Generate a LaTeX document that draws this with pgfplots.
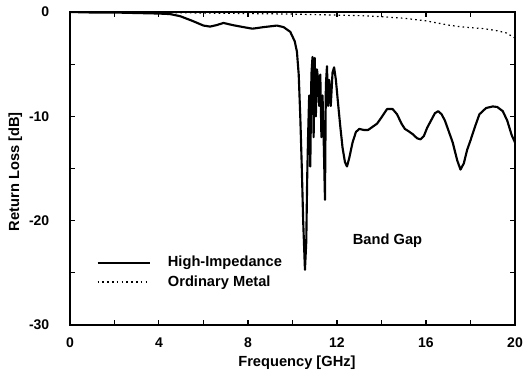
\documentclass[border=0pt]{standalone}
\usepackage{fontspec}
\setmainfont{Liberation Sans}
\usepackage{pgfplots}
\pgfplotsset{compat=1.18}
\begin{document}
\begin{tikzpicture}
\begin{axis}[
  scale only axis, width=334pt, height=235pt,
  xmin=0, xmax=20, ymin=-30, ymax=0,
  xtick={0,4,8,12,16,20}, ytick={-30,-20,-10,0},
  minor xtick={2,6,10,14,18}, minor ytick={-25,-15,-5},
  tick align=inside, major tick length=3.5pt, minor tick length=3.5pt,
  axis line style={line width=1pt},
  every tick/.style={line width=0.8pt, black},
  /pgf/number format/assume math mode=true,
  ticklabel style={font=\bfseries\fontsize{10.5}{12}\selectfont},
  yticklabel style={xshift=-12pt},
  xticklabel style={yshift=-6pt},
  xlabel={Frequency [GHz]}, ylabel={Return Loss [dB]},
  label style={font=\bfseries\fontsize{11}{13}\selectfont},
  xlabel style={at={(axis description cs:0.51,0)}, anchor=base, yshift=-31pt},
  ylabel style={at={(axis description cs:-0.123,0.49)}, anchor=center},
  legend style={at={(axis description cs:0.05,0.1)}, anchor=south west, draw=none, fill=none,
    font=\bfseries\fontsize{11}{13}\selectfont, row sep=1pt},
  legend cell align=left,
  legend image code/.code={\draw[#1] (0pt,0pt) -- (39pt,0pt); \path (50pt,0pt);},
]
\addplot[black, line width=1.6pt, line join=round] coordinates {
(0,0) (1,-0.05) (2,-0.05) (3,-0.1) (4,-0.15) (4.5,-0.2) (4.95,-0.4) (5.5,-0.85)
(6.0,-1.3) (6.3,-1.4) (6.6,-1.25) (6.9,-1.05) (7.3,-1.25) (7.8,-1.45) (8.2,-1.6)
(8.7,-1.45) (9.3,-1.3) (9.6,-1.45) (9.9,-1.9) (10.1,-2.8) (10.2,-3.8) (10.28,-6)
(10.35,-10) (10.42,-15) (10.48,-20) (10.56,-24.7) (10.62,-22) (10.66,-16) (10.7,-12)
(10.75,-8) (10.8,-14.8) (10.85,-6) (10.9,-4.3) (10.95,-12) (11.0,-4.4) (11.05,-10)
(11.1,-5.5) (11.15,-6.4) (11.2,-9) (11.25,-6) (11.3,-12) (11.35,-8) (11.4,-12)
(11.46,-18) (11.5,-7) (11.55,-5.2) (11.6,-9) (11.65,-6.5) (11.72,-9) (11.8,-5.8)
(11.87,-5.3) (11.95,-6.5) (12.05,-8.8) (12.15,-11) (12.25,-13) (12.36,-14.4)
(12.45,-14.8) (12.55,-14) (12.7,-12.5) (12.85,-11.5) (13.0,-11.2) (13.2,-11.3)
(13.4,-11.3) (13.6,-11.0) (13.8,-10.7) (14.0,-10.1) (14.25,-9.3) (14.5,-9.3)
(14.7,-9.8) (14.9,-10.7) (15.05,-11.2) (15.2,-11.4) (15.4,-11.7) (15.6,-12.1)
(15.75,-12.2) (15.9,-11.9) (16.05,-11.1) (16.2,-10.5) (16.4,-9.7) (16.55,-9.5)
(16.7,-9.8) (16.85,-10.4) (17.0,-11.3) (17.2,-12.5) (17.4,-14.2) (17.55,-15.1)
(17.7,-14.5) (17.85,-13.2) (18.0,-12.3) (18.2,-11) (18.4,-9.8) (18.7,-9.2)
(19.0,-9.05) (19.2,-9.1) (19.45,-9.5) (19.65,-10.4) (19.85,-11.8) (20,-12.5)
};
\addlegendentry{High-Impedance}
\addplot[black, line width=0.9pt, dash pattern=on 1.2pt off 2.4pt] coordinates {
(0,0) (2,0) (4,-0.05) (6,-0.1) (8,-0.15) (10,-0.2) (12,-0.3) (13,-0.35) (14,-0.45)
(15,-0.6) (16,-0.85) (17,-1.25) (17.5,-1.4) (18,-1.5) (18.6,-1.6) (19.2,-1.8)
(19.6,-2.0) (20,-2.5)
};
\addlegendentry{Ordinary Metal}
\node[font=\bfseries\fontsize{11}{13}\selectfont] at (axis cs:14.27,-21.9) {Band Gap};
\end{axis}
\pgfresetboundingbox
\path[use as bounding box] ([shift={(-52.5pt,-36.75pt)}]current axis.south west) rectangle ([shift={(6pt,9pt)}]current axis.north east);
\end{tikzpicture}
\end{document}
